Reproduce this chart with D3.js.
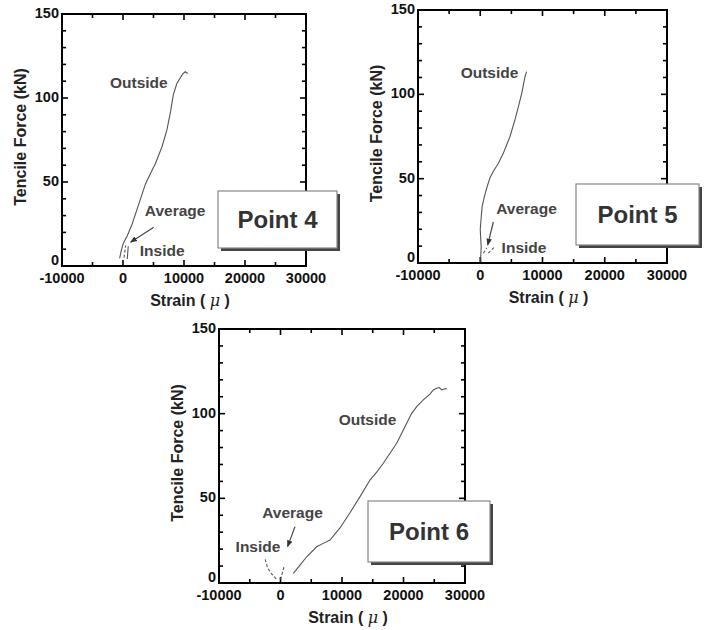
<!DOCTYPE html>
<html><head><meta charset="utf-8">
<script src="https://cdn.jsdelivr.net/npm/d3@7"></script>
<style>
body{margin:0;background:#fff;}
svg{display:block;}
text{font-family:"Liberation Sans",Arial,Helvetica,sans-serif;font-weight:bold;}
</style></head>
<body><svg id="c" width="707" height="630"></svg>
<script>
// ---------- data ----------
const xTickValues = [-10000, 0, 10000, 20000, 30000];
const yTickValues = [0, 50, 100, 150];
const xTickLabels = ["-10000", "0", "10000", "20000", "30000"];
const yTickLabels = ["0", "50", "100", "150"];
const panelNames = ["Point 4", "Point 5", "Point 6"];
const seriesNames = ["Outside", "Average", "Inside"];
const yTitle = "Tencile Force (kN)";

// Point 4 curves [strain, force]
const p4Outside = [[-550,4.5],[-300,9],[0,13],[400,16],[700,18],[1500,25],[2600,37],[3700,49],[4760,57],[5320,61],[6390,71],[7200,81],[7800,92],[8250,102],[8830,108.6],[9760,114.2],[10200,115.6],[10620,114.6]];
const p4Average = [[160,5],[300,8.5],[440,12.2]];
const p4Inside  = [[700,4.2],[780,8],[860,11.8]];

// Point 5 curves
const p5Outside = [[100,0.5],[80,4],[150,9.7],[60,15.6],[0,20],[150,27],[300,33.4],[700,40],[1100,45.2],[1570,50.5],[2200,55],[2900,59],[3700,65],[4780,75],[5580,85],[6120,92.6],[6660,100.6],[7190,110.5],[7450,113.5]];
const p5Average = [[490,5.8],[760,7.3],[1030,8.8]];
const p5Inside  = [[1290,5.8],[1830,7.8],[2370,9.8]];

// Point 6 curves
const p6Outside = [[2080,5.7],[3170,10.6],[4260,15.5],[5880,21.4],[6960,23.4],[8050,25.4],[9670,32.5],[11300,41.5],[12930,51],[14550,60.8],[15640,65.5],[16720,70.7],[17800,76.6],[18890,82.5],[19710,88.4],[20520,94.3],[21330,100.2],[22150,104.1],[23220,108.1],[24310,111.5],[24850,114],[25400,115],[25820,115.4],[26210,114],[26590,114.6],[27020,114.8]];
const p6Average = [[0,2],[300,6],[600,10]];
const p6Inside  = [[-2500,14],[-2100,9],[-1600,6],[-1100,4],[-700,2.5]];

const allOutside = [p4Outside, p5Outside, p6Outside];
const allAverage = [p4Average, p5Average, p6Average];
const allInside  = [p4Inside, p5Inside, p6Inside];

// ---------- layout ----------
const panels = [
  {left:62, top:14, w:244, h:252,
   box:[218,191,119,57],
   lab:{Outside:[2600,109.4], Average:[8540,33.1], Inside:[6420,9.2]},
   arrow:[[5040,23.1],[1250,14.2]]},
  {left:418, top:10, w:249, h:253,
   box:[576,184,123,61],
   lab:{Outside:[1490,113.2], Average:[7430,32.6], Inside:[7030,8.9]},
   arrow:[[2100,24.3],[1200,10.7]]},
  {left:219, top:329, w:246, h:254,
   box:[368,501,122,61],
   lab:{Outside:[14150,96.3], Average:[1950,41.9], Inside:[-3660,21.3]},
   arrow:[[2360,33.3],[1150,21.5]]}
];

const svg = d3.select("#c");
const defs = svg.append("defs");
defs.append("marker").attr("id","ah").attr("viewBox","0 0 10 10")
  .attr("refX",9).attr("refY",5).attr("markerWidth",7).attr("markerHeight",7)
  .attr("orient","auto").attr("markerUnits","userSpaceOnUse")
  .append("path").attr("d","M0,1 L10,5 L0,9 Z").attr("fill","#333");

panels.forEach((p,i)=>{
  const x = d3.scaleLinear().domain([-10000,30000]).range([p.left, p.left+p.w]);
  const y = d3.scaleLinear().domain([0,150]).range([p.top+p.h, p.top]);
  const g = svg.append("g");

  // ticks (inward, all four sides)
  const xt = d3.range(-10000, 30001, 5000);
  const yt = d3.range(0, 151, 10);
  xt.forEach(v=>{
    const L = (v % 10000 === 0) ? 6 : 4;
    g.append("line").attr("x1",x(v)).attr("x2",x(v)).attr("y1",y(0)).attr("y2",y(0)-L).attr("stroke","#000").attr("stroke-width",1.6);
    g.append("line").attr("x1",x(v)).attr("x2",x(v)).attr("y1",y(150)).attr("y2",y(150)+L).attr("stroke","#000").attr("stroke-width",1.6);
  });
  yt.forEach(v=>{
    const L = (v % 50 === 0) ? 6 : 4;
    g.append("line").attr("y1",y(v)).attr("y2",y(v)).attr("x1",x(-10000)).attr("x2",x(-10000)+L).attr("stroke","#000").attr("stroke-width",1.6);
    g.append("line").attr("y1",y(v)).attr("y2",y(v)).attr("x1",x(30000)).attr("x2",x(30000)-L).attr("stroke","#000").attr("stroke-width",1.6);
  });

  // frame
  g.append("rect").attr("x",x(-10000)).attr("y",y(150)).attr("width",x(30000)-x(-10000)).attr("height",y(0)-y(150))
   .attr("fill","none").attr("stroke","#000").attr("stroke-width",2);

  // tick labels
  xTickValues.forEach((v,k)=>{
    g.append("text").attr("x",x(v)).attr("y",y(0)+12).attr("dominant-baseline","central")
     .attr("text-anchor","middle").attr("font-size",14.5).attr("fill","#111").text(xTickLabels[k]);
  });
  yTickValues.forEach((v,k)=>{
    g.append("text").attr("x",x(-10000)-3).attr("y",y(v)-(v===0?6:1)).attr("dominant-baseline","central")
     .attr("text-anchor","end").attr("font-size",14.5).attr("fill","#111").text(yTickLabels[k]);
  });

  // axis titles
  const cx = (x(-10000)+x(30000))/2 + 6;
  const xt1 = g.append("text").attr("x",cx).attr("y",y(0)+34).attr("dominant-baseline","central")
     .attr("text-anchor","middle").attr("font-size",16).attr("fill","#222");
  xt1.append("tspan").text("Strain ( ");
  xt1.append("tspan").attr("font-style","italic").attr("font-weight","normal").attr("font-family","DejaVu Serif, serif").text("\u03BC");
  xt1.append("tspan").text(" )");
  const cy = (y(0)+y(150))/2 - 3;
  g.append("text").attr("transform",`translate(${x(-10000)-42},${cy}) rotate(-90)`)
   .attr("dominant-baseline","central").attr("text-anchor","middle").attr("font-size",16).attr("fill","#222").text(yTitle);

  // curves
  const line = d3.line().x(d=>x(d[0])).y(d=>y(d[1])).curve(d3.curveLinear);
  g.append("path").datum(allOutside[i]).attr("d",line).attr("fill","none").attr("stroke","#555").attr("stroke-width",1.1);
  g.append("path").datum(allAverage[i]).attr("d",line).attr("fill","none").attr("stroke","#555").attr("stroke-width",1.1).attr("stroke-dasharray","3,2");
  g.append("path").datum(allInside[i]).attr("d",line).attr("fill","none").attr("stroke","#555").attr("stroke-width",1.1)
   .attr("stroke-dasharray", i===0 ? null : "3,2");

  // arrow
  g.append("line").attr("x1",x(p.arrow[0][0])).attr("y1",y(p.arrow[0][1]))
   .attr("x2",x(p.arrow[1][0])).attr("y2",y(p.arrow[1][1]))
   .attr("stroke","#444").attr("stroke-width",1.2).attr("marker-end","url(#ah)");

  // series labels
  seriesNames.forEach(s=>{
    const pos = p.lab[s];
    g.append("text").attr("x",x(pos[0])).attr("y",y(pos[1])).attr("dominant-baseline","central")
     .attr("text-anchor","middle").attr("font-size",15.5).attr("fill","#444").text(s);
  });

  // point box
  const [bx,by,bw,bh] = p.box;
  g.append("rect").attr("x",bx+3).attr("y",by+3).attr("width",bw).attr("height",bh).attr("fill","#444");
  g.append("rect").attr("x",bx).attr("y",by).attr("width",bw).attr("height",bh).attr("fill","#fff").attr("stroke","#888").attr("stroke-width",1.2);
  g.append("text").attr("x",bx+bw/2).attr("y",by+bh/2).attr("dominant-baseline","central")
   .attr("text-anchor","middle").attr("font-size",24).attr("fill","#333").text(panelNames[i]);
});
</script></body></html>
